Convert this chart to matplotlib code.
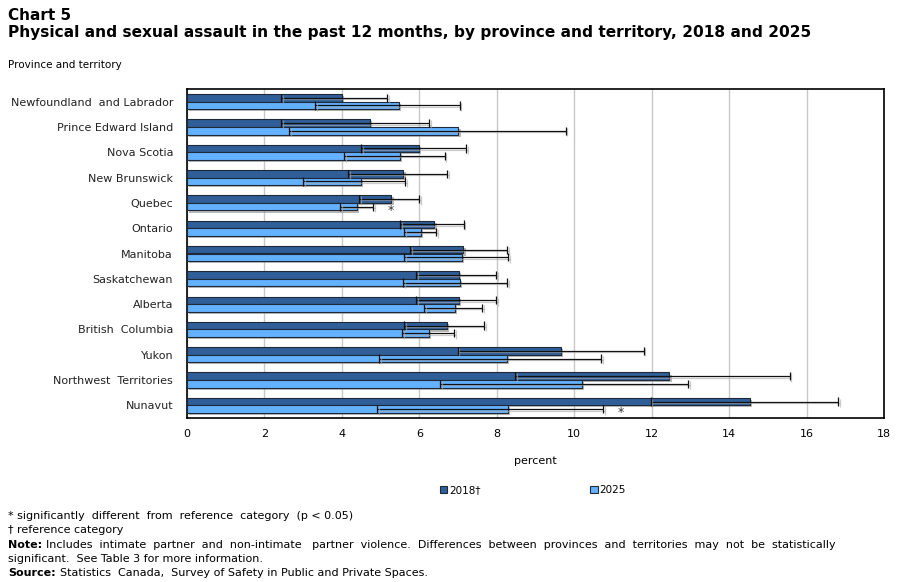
import matplotlib
matplotlib.use('Agg')
import matplotlib.pyplot as plt
import matplotlib.patheffects as pe
from matplotlib.patches import Patch
import numpy as np

plt.rcParams['font.family'] = ['DejaVu Sans']

# ---- data ------------------------------------------------------------
regions = ['Newfoundland  and Labrador', 'Prince Edward Island', 'Nova Scotia',
           'New Brunswick', 'Quebec', 'Ontario', 'Manitoba', 'Saskatchewan',
           'Alberta', 'British  Columbia', 'Yukon', 'Northwest  Territories',
           'Nunavut']
v2018  = [4.01, 4.72, 6.00, 5.59, 5.28, 6.39, 7.14, 7.03, 7.03, 6.72, 9.65, 12.46, 14.55]
lo2018 = [2.44, 2.44, 4.50, 4.17, 4.45, 5.51, 5.77, 5.92, 5.92, 5.61, 6.99, 8.48, 11.97]
hi2018 = [5.17, 6.26, 7.21, 6.72, 6.00, 7.15, 8.27, 7.99, 7.99, 7.68, 11.79, 15.56, 16.82]
v2025  = [5.48, 7.01, 5.51, 4.50, 4.40, 6.05, 7.09, 7.06, 6.93, 6.26, 8.27, 10.19, 8.30]
lo2025 = [3.31, 2.64, 4.06, 3.00, 3.96, 5.61, 5.61, 5.59, 6.13, 5.56, 4.97, 6.54, 4.91]
hi2025 = [7.05, 9.79, 6.65, 5.64, 4.81, 6.44, 8.30, 8.27, 7.63, 6.90, 10.70, 12.95, 10.75]
sig2025 = ['Quebec', 'Nunavut']
xticks = [0, 2, 4, 6, 8, 10, 12, 14, 16, 18]

DARK = '#2F5E98'
LIGHT = '#63B1FF'
EDGE = '#1F2A38'

fig = plt.figure(figsize=(9.02, 5.82), dpi=100)
ax = fig.add_axes([187/902, 1-418/582, 697/902, 329/582])

y = np.arange(len(regions))
h = 0.30
shadow = [pe.withSimplePatchShadow(offset=(1.5, -1.5), shadow_rgbFace='#888888', alpha=0.6)]
ax.barh(y - h/2, v2018, height=h, color=DARK, edgecolor=EDGE, lw=0.8,
        zorder=3, path_effects=shadow)
ax.barh(y + h/2, v2025, height=h, color=LIGHT, edgecolor=EDGE, lw=0.8,
        zorder=3, path_effects=shadow)

lshadow = [pe.SimpleLineShadow(offset=(1, -1), shadow_color='#aaaaaa', alpha=0.6), pe.Normal()]
for vals, lo, hi, off in [(v2018, lo2018, hi2018, -h/2), (v2025, lo2025, hi2025, h/2)]:
    vals, lo, hi = np.array(vals), np.array(lo), np.array(hi)
    eb = ax.errorbar(vals, y + off, xerr=[vals - lo, hi - vals], fmt='none',
                     ecolor='#111111', elinewidth=0.9, capsize=3, capthick=0.9,
                     zorder=4)
    for art in list(eb[1]) + list(eb[2]):
        art.set_path_effects(lshadow)

for i, r in enumerate(regions):
    if r in sig2025:
        ax.text(hi2025[i] + 0.45, i + 0.3, '*', ha='center', va='center',
                fontsize=9, color='#333333')

ax.set_xlim(0, 18)
ax.set_ylim(len(regions) - 0.5, -0.5)
ax.set_xticks(xticks)
ax.set_yticks(y)
ax.set_yticklabels(regions, fontsize=8, color='#222222')
ax.tick_params(axis='both', length=0)
ax.tick_params(axis='y', pad=10)
ax.tick_params(axis='x', pad=8, labelsize=8)
ax.grid(axis='x', color='#C8C8C8', lw=1, zorder=0)
ax.set_axisbelow(True)
for s in ax.spines.values():
    s.set_color('black')
    s.set_linewidth(1.2)
ax.set_xlabel('percent', fontsize=8, labelpad=12)

# titles
fig.text(8/902, 1-15/582, 'Chart 5', fontsize=11, fontweight='bold', va='center')
fig.text(8/902, 1-33/582,
         'Physical and sexual assault in the past 12 months, by province and territory, 2018 and 2025',
         fontsize=11.1, fontweight='bold', va='center')
fig.text(8/902, 1-65/582, 'Province and territory', fontsize=7.5, va='center')

# legend
handles = [Patch(facecolor=DARK, edgecolor=EDGE, lw=0.8, label='2018\u2020'),
           Patch(facecolor=LIGHT, edgecolor=EDGE, lw=0.8, label='2025')]
fig.legend(handles=handles, loc='center', bbox_to_anchor=(533/902, 1-490/582),
           ncol=2, frameon=False, fontsize=7.5, handlelength=0.7, handleheight=0.7,
           handletextpad=0.2, columnspacing=10.5)

# footnotes
fs = 8
renderer = fig.canvas.get_renderer()


def foot(ypx, bold, rest):
    x0 = 8 / 902
    yy = 1 - ypx / 582
    if bold:
        t = fig.text(x0, yy, bold, fontsize=fs, fontweight='bold', va='center')
        bb = t.get_window_extent(renderer)
        x0 = (bb.x1 + 4) / fig.bbox.width
    fig.text(x0, yy, rest, fontsize=fs, va='center')


foot(516, None, '* significantly  different  from  reference  category  (p < 0.05)')
foot(530, None, '\u2020 reference category')
foot(545, 'Note:', 'Includes  intimate  partner  and  non-intimate   partner  violence.  '
     'Differences  between  provinces  and  territories  may  not  be  statistically')
foot(559, None, 'significant.  See Table 3 for more information.')
foot(573, 'Source:', 'Statistics  Canada,  Survey of Safety in Public and Private Spaces.')

fig.savefig('out.png', dpi=100)
